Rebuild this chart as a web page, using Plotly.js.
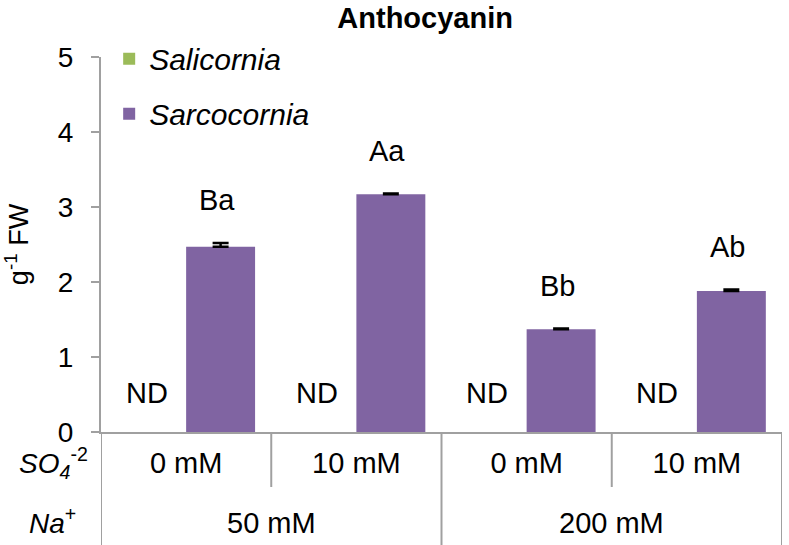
<!DOCTYPE html>
<html>
<head>
<meta charset="utf-8">
<script src="https://cdn.plot.ly/plotly-3.0.1.min.js"></script>
<style>
  html, body { margin: 0; padding: 0; background: #fff; }
  #chart { width: 789px; height: 545px; }
</style>
</head>
<body>
<div id="chart"></div>
<script>
// treatment table: SO4 level (upper row) within Na+ level (lower row)
var so4Levels = ['0 mM', '10 mM', '0 mM', '10 mM'];
var naLevels = ['50 mM', '200 mM'];
var naGroupOf = [0, 0, 1, 1];
var pos = [0, 1, 2, 3];

// Salicornia not detected, Sarcocornia values and SE
var salicornia = [0, 0, 0, 0];
var sarcocornia = [2.47, 3.17, 1.37, 1.88];
var sarcoErr = [0.05, 0.01, 0.01, 0.02];
var letters = ['Ba', 'Aa', 'Bb', 'Ab'];
var ndLabel = 'ND';

var gray = '#a0a0a0';
var txt = '#000000';
var bargap = 0.19;
var half = (1 - bargap) / 4;   // offset of each bar centre in a group
var plotH = 545 - 57 - 113;

var annotations = [];
pos.forEach(function(p, i) {
    annotations.push({
        x: p + half - 0.02, y: sarcocornia[i] + sarcoErr[i], xref: 'x', yref: 'y',
        text: letters[i], showarrow: false, yanchor: 'bottom', yshift: 25,
        font: {size: 29, color: txt}
    });
    annotations.push({
        x: p - half - 0.03, y: salicornia[i], xref: 'x', yref: 'y',
        text: ndLabel, showarrow: false, yanchor: 'bottom', yshift: 21,
        font: {size: 29, color: txt}
    });
});

// Na+ row of the table
naLevels.forEach(function(lab, g) {
    var members = pos.filter(function(p, i) { return naGroupOf[i] === g; });
    var mid = (members[0] + members[members.length - 1]) / 2;
    annotations.push({
        x: mid, y: 0, xref: 'x', yref: 'paper', yanchor: 'middle', yshift: -91,
        text: lab, showarrow: false, font: {size: 29, color: txt}
    });
});

// row labels of the table
annotations.push({
    xref: 'paper', yref: 'paper', x: -0.016, y: 0, xanchor: 'right', yanchor: 'middle',
    yshift: -31, text: '<i>SO<sub>4</sub></i><sup>-2</sup>', showarrow: false,
    font: {size: 28, color: txt}
});
annotations.push({
    xref: 'paper', yref: 'paper', x: -0.034, y: 0, xanchor: 'right', yanchor: 'middle',
    yshift: -89, text: '<i>Na</i><sup>+</sup>', showarrow: false,
    font: {size: 28, color: txt}
});

// table dividers: full height between Na+ groups, half height between SO4 levels
var shapes = [];
pos.concat([pos.length]).forEach(function(p, k) {
    var b = p - 0.5;
    var full = (k === 0 || k === pos.length || naGroupOf[k] !== naGroupOf[k - 1]);
    shapes.push({
        type: 'line', xref: 'x', yref: 'paper', x0: b, x1: b, y0: 0,
        y1: full ? -113 / plotH : -55 / plotH,
        line: {color: gray, width: 2}
    });
});

var traces = [{
    type: 'bar', name: 'Salicornia', legendgroup: 'g1',
    x: pos, y: salicornia,
    marker: {color: '#9bbb59'}
}, {
    type: 'bar', name: 'Sarcocornia', legendgroup: 'g2',
    x: pos, y: sarcocornia,
    marker: {color: '#8064a2'},
    error_y: {
        type: 'data', symmetric: false, array: sarcoErr, arrayminus: [0, 0, 0, 0],
        color: '#000', thickness: 2.5, width: 8
    }
}];

var layout = {
    width: 789, height: 545,
    margin: {l: 101, r: 7, t: 57, b: 113},
    paper_bgcolor: '#fff', plot_bgcolor: '#fff',
    font: {family: 'Liberation Sans, Arial, sans-serif', color: txt},
    title: {
        text: '<b>Anthocyanin</b>', font: {size: 29, color: txt},
        xref: 'paper', x: 0.476, xanchor: 'center', y: 0.968, yanchor: 'middle'
    },
    barmode: 'group', bargap: bargap, bargroupgap: 0,
    showlegend: true,
    legend: {
        x: 0.012, y: 1.065, xanchor: 'left', yanchor: 'top',
        font: {size: 30, style: 'italic', color: txt},
        bgcolor: 'rgba(0,0,0,0)', traceorder: 'grouped', tracegroupgap: 13
    },
    xaxis: {
        range: [-0.5, pos.length - 0.5], tickvals: pos, ticktext: so4Levels,
        showline: true, linecolor: gray, linewidth: 2,
        ticks: '', showgrid: false, zeroline: false,
        tickfont: {size: 29, color: txt}, ticklabelstandoff: 4
    },
    yaxis: {
        range: [0, 5], dtick: 1, showgrid: false, zeroline: false,
        showline: true, linecolor: gray, linewidth: 2,
        ticks: 'outside', ticklen: 8, tickwidth: 2, tickcolor: gray,
        tickfont: {size: 28, color: txt}, ticklabelstandoff: 12,
        title: {text: 'g<sup>-1</sup> FW', font: {size: 27, color: txt}, standoff: 28}
    },
    annotations: annotations,
    shapes: shapes
};

Plotly.newPlot('chart', traces, layout, {displayModeBar: false, staticPlot: true});
</script>
</body>
</html>
